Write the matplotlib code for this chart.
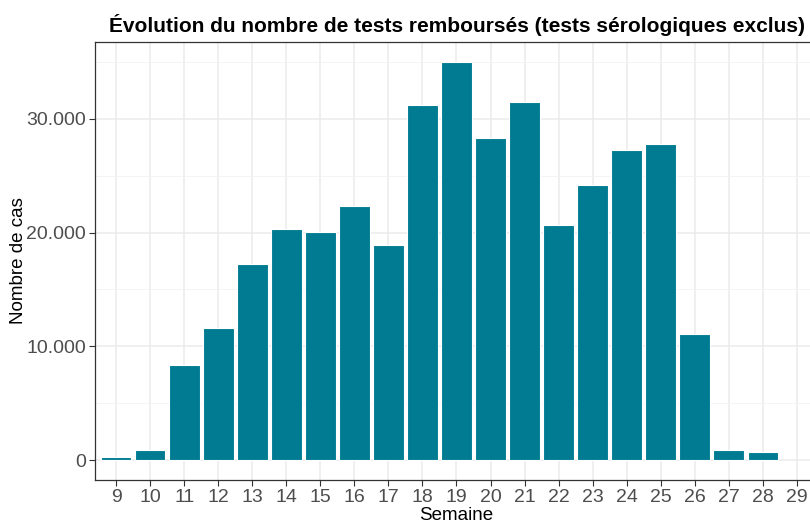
import matplotlib
matplotlib.use("Agg")
import matplotlib.pyplot as plt
from matplotlib.ticker import FuncFormatter, MultipleLocator
from matplotlib import font_manager

plt.rcParams["font.family"] = ["Liberation Sans", "DejaVu Sans"]
narrow_ok = any("Narrow" in f.name for f in font_manager.fontManager.ttflist)
lab_family = ["Liberation Sans Narrow", "Liberation Sans"] if narrow_ok else ["Liberation Sans"]
lab_size = 14 if narrow_ok else 12
title_size = 13.5 if narrow_ok else 11.5

semaines = list(range(9, 29))
tests = [250, 900, 8350, 11600, 17250, 20300, 20050, 22350, 18950, 31250,
         34950, 28350, 31450, 20650, 24150, 27250, 27750, 11100, 900, 700]
x_ticks = list(range(9, 30))

fig = plt.figure(figsize=(8.10, 5.23), dpi=100)
ax = fig.add_axes([95 / 810, 43 / 523, (818 - 95) / 810, (481 - 43) / 523])

ax.bar(semaines, tests, width=0.9, color="#007b91", edgecolor="white", linewidth=0.8, zorder=3)

ax.set_xlim(8.38, 29.62)
ax.set_ylim(-1750, 36750)
ax.set_xticks(x_ticks)
ax.yaxis.set_major_locator(MultipleLocator(10000))
ax.yaxis.set_minor_locator(MultipleLocator(5000))
ax.yaxis.set_major_formatter(FuncFormatter(lambda v, p: f"{int(v):,}".replace(",", ".")))

ax.grid(which="major", color="#ebebeb", linewidth=1.1, zorder=0)
ax.grid(which="minor", axis="y", color="#f2f2f2", linewidth=0.6, zorder=0)
ax.tick_params(axis="both", which="major", length=4, width=0.8, color="#333333",
               labelcolor="#4d4d4d", labelsize=lab_size, pad=2.5)
ax.tick_params(axis="y", which="minor", length=0)
for lbl in ax.get_xticklabels() + ax.get_yticklabels():
    lbl.set_family(lab_family)
for s in ax.spines.values():
    s.set_color("#333333")
    s.set_linewidth(0.9)

ax.set_xlabel("Semaine", fontsize=title_size, family=lab_family, va="center")
ax.xaxis.set_label_coords(0.5, -35 / 438)
ax.set_ylabel("Nombre de cas", fontsize=title_size, family=lab_family, va="center")
ax.yaxis.set_label_coords(-76 / 723, 0.5)
ax.set_title("Évolution du nombre de tests remboursés (tests sérologiques exclus)",
             fontsize=15, fontweight="bold", pad=7)

fig.savefig("out.png", dpi=100)
